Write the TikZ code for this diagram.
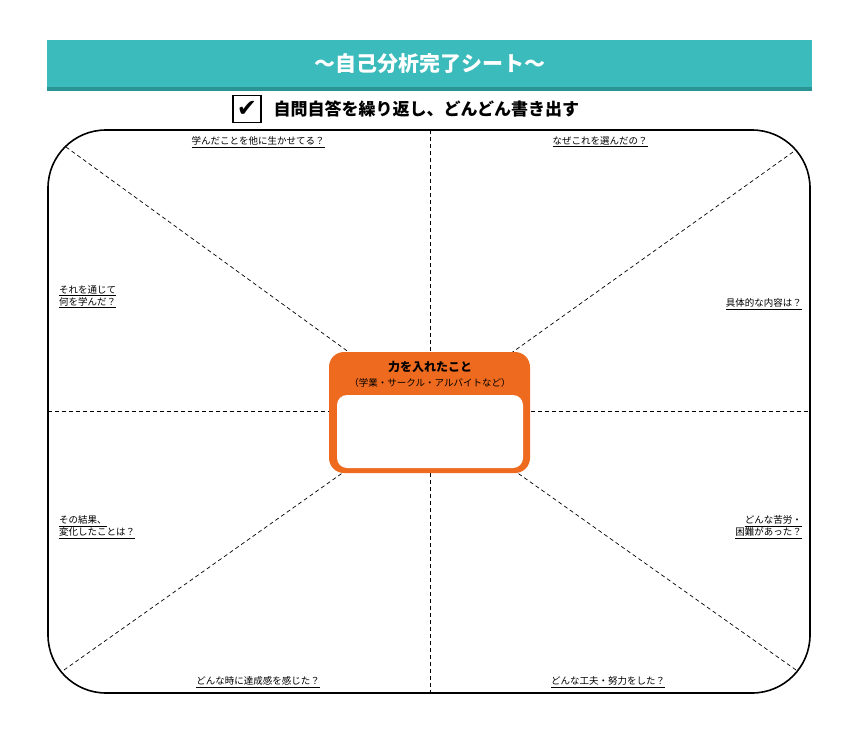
\documentclass[tikz,border=0pt]{standalone}
\usepackage{fontspec}
\setmainfont{Noto Sans CJK JP}
\definecolor{teal1}{HTML}{3BBBBB}
\definecolor{teal2}{HTML}{2A9393}
\definecolor{orng}{HTML}{EE6A1E}
\begin{document}
\begin{tikzpicture}[x=1pt,y=-1pt,
 q/.style={font=\fontsize{9.5}{12}\selectfont,inner sep=1pt},
 dl/.style={dashed,line width=0.7pt,dash pattern=on 4pt off 3pt}]
\useasboundingbox[fill=white] (0,0) rectangle (860,736);
\fill[teal1] (47,40) rectangle (812,90);
\fill[teal2] (47,87) rectangle (812,91);
\node[text=white,font=\fontsize{21}{24}\bfseries\selectfont] (title) at (430,64) {～自己分析完了シート～};
\node[draw,line width=1.2pt,minimum width=28,minimum height=27,inner sep=0,font=\fontsize{24}{24}\selectfont] (cb) at (247,109) {\fontspec{DejaVu Sans}✔};
\node[anchor=west,font=\fontsize{17}{20}\bfseries\selectfont] (sub) at (270,109) {自問自答を繰り返し、どんどん書き出す};
\coordinate (c) at (430,411);
\draw[dl] (430,130) -- (430,693);
\draw[dl] (48,411) -- (810,411);
\draw[dl] (66,147) -- (c);
\draw[dl] (793,152) -- (c);
\draw[dl] (64,670) -- (c);
\draw[dl] (796,670) -- (c);
\draw[line width=1.6pt,rounded corners=58] (48,130) rectangle (810,693);
\fill[orng,rounded corners=15] (329,352) rectangle (530,473);
\fill[white,rounded corners=10] (337,395) rectangle (523,468);
\node[font=\fontsize{12}{14}\bfseries\selectfont] (bt) at (430,367) {力を入れたこと};
\node[font=\fontsize{9.5}{12}\selectfont] (bs) at (430,383) {（学業・サークル・アルバイトなど）};
\node[q] (l1) at (258,142) {\underline{学んだことを他に生かせてる？}};
\node[q] (l2) at (600,142) {\underline{なぜこれを選んだの？}};
\node[q,anchor=west,align=left] (l3) at (58,297) {\underline{それを通じて}\\\underline{何を学んだ？}};
\node[q,anchor=east] (l4) at (803,304) {\underline{具体的な内容は？}};
\node[q,anchor=west,align=left] (l5) at (58,527) {\underline{その結果、}\\\underline{変化したことは？}};
\node[q,anchor=east,align=right] (l6) at (803,527) {\underline{どんな苦労・}\\\underline{困難があった？}};
\node[q] (l7) at (258,682) {\underline{どんな時に達成感を感じた？}};
\node[q] (l8) at (608,682) {\underline{どんな工夫・努力をした？}};
\end{tikzpicture}
\end{document}
